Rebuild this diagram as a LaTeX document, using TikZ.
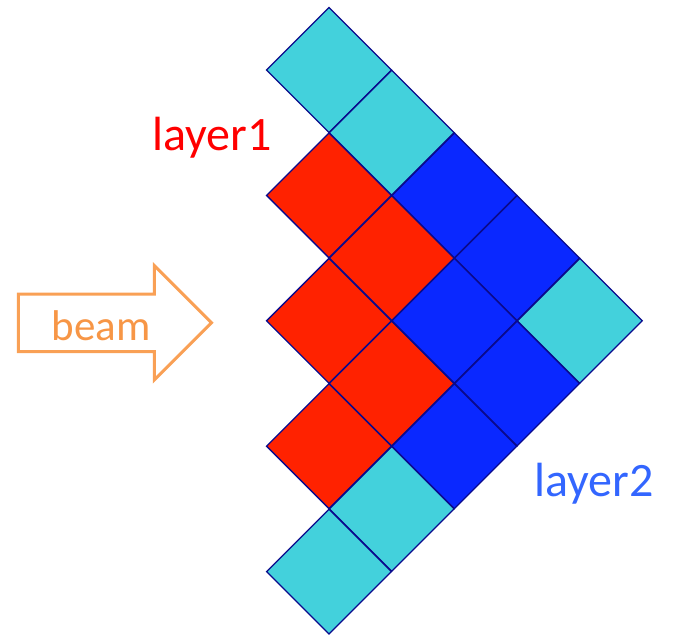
\documentclass[tikz,border=0pt]{standalone}
\usepackage{fontspec}
\setmainfont{Carlito}
\usetikzlibrary{shapes.geometric}
\definecolor{cyanc}{HTML}{43D1DC}
\definecolor{redc}{HTML}{FF2200}
\definecolor{bluec}{HTML}{0A28FF}
\definecolor{edgec}{HTML}{0A0A8C}
\definecolor{orangec}{HTML}{F9A055}
\definecolor{orangetext}{HTML}{F79646}
\definecolor{layerblue}{HTML}{3366FF}
\definecolor{layerred}{HTML}{FF0000}
\tikzset{
  cell/.style={diamond, aspect=1, minimum width=125.4pt, minimum height=125.4pt, inner sep=0pt, draw=edgec, line width=1.3pt},
  cyancell/.style={cell, fill=cyanc},
  redcell/.style={cell, fill=redc},
  bluecell/.style={cell, fill=bluec},
  lbl/.style={anchor=base, inner sep=0pt, font=\fontsize{48}{50}\selectfont}
}
\newcommand{\gp}[2]{({329+62.7*(#1)},{70+62.7*(#2)})}
\begin{document}
\begin{tikzpicture}[x=1pt,y=-1pt]
\useasboundingbox (0,0) rectangle (673,635);
% cyan cells
\node[cyancell] (c1) at \gp{0}{0} {};
\node[cyancell] (c2) at \gp{1}{1} {};
\node[cyancell] (c3) at \gp{4}{4} {};
\node[cyancell] (c4) at \gp{1}{7} {};
\node[cyancell] (c5) at \gp{0}{8} {};
% red cells
\node[redcell] (r1) at \gp{0}{2} {};
\node[redcell] (r2) at \gp{1}{3} {};
\node[redcell] (r3) at \gp{0}{4} {};
\node[redcell] (r4) at \gp{1}{5} {};
\node[redcell] (r5) at \gp{0}{6} {};
% blue cells
\node[bluecell] (b1) at \gp{2}{2} {};
\node[bluecell] (b2) at \gp{3}{3} {};
\node[bluecell] (b3) at \gp{2}{4} {};
\node[bluecell] (b4) at \gp{3}{5} {};
\node[bluecell] (b5) at \gp{2}{6} {};
% beam arrow
\draw[orangec, line width=3pt, line join=miter]
  (18.3,294) -- (154.3,294) -- (154.3,265.5) -- (211.5,322.7) -- (154.3,380) -- (154.3,351.7) -- (18.3,351.7) -- cycle;
\node[lbl, text=orangetext, font=\fontsize{43}{45}\selectfont] (beam) at (101,340.7) {beam};
% labels
\node[lbl, text=layerred] (l1) at (212,150) {layer1};
\node[lbl, text=layerblue] (l2) at (594,496) {layer2};
\end{tikzpicture}
\end{document}
